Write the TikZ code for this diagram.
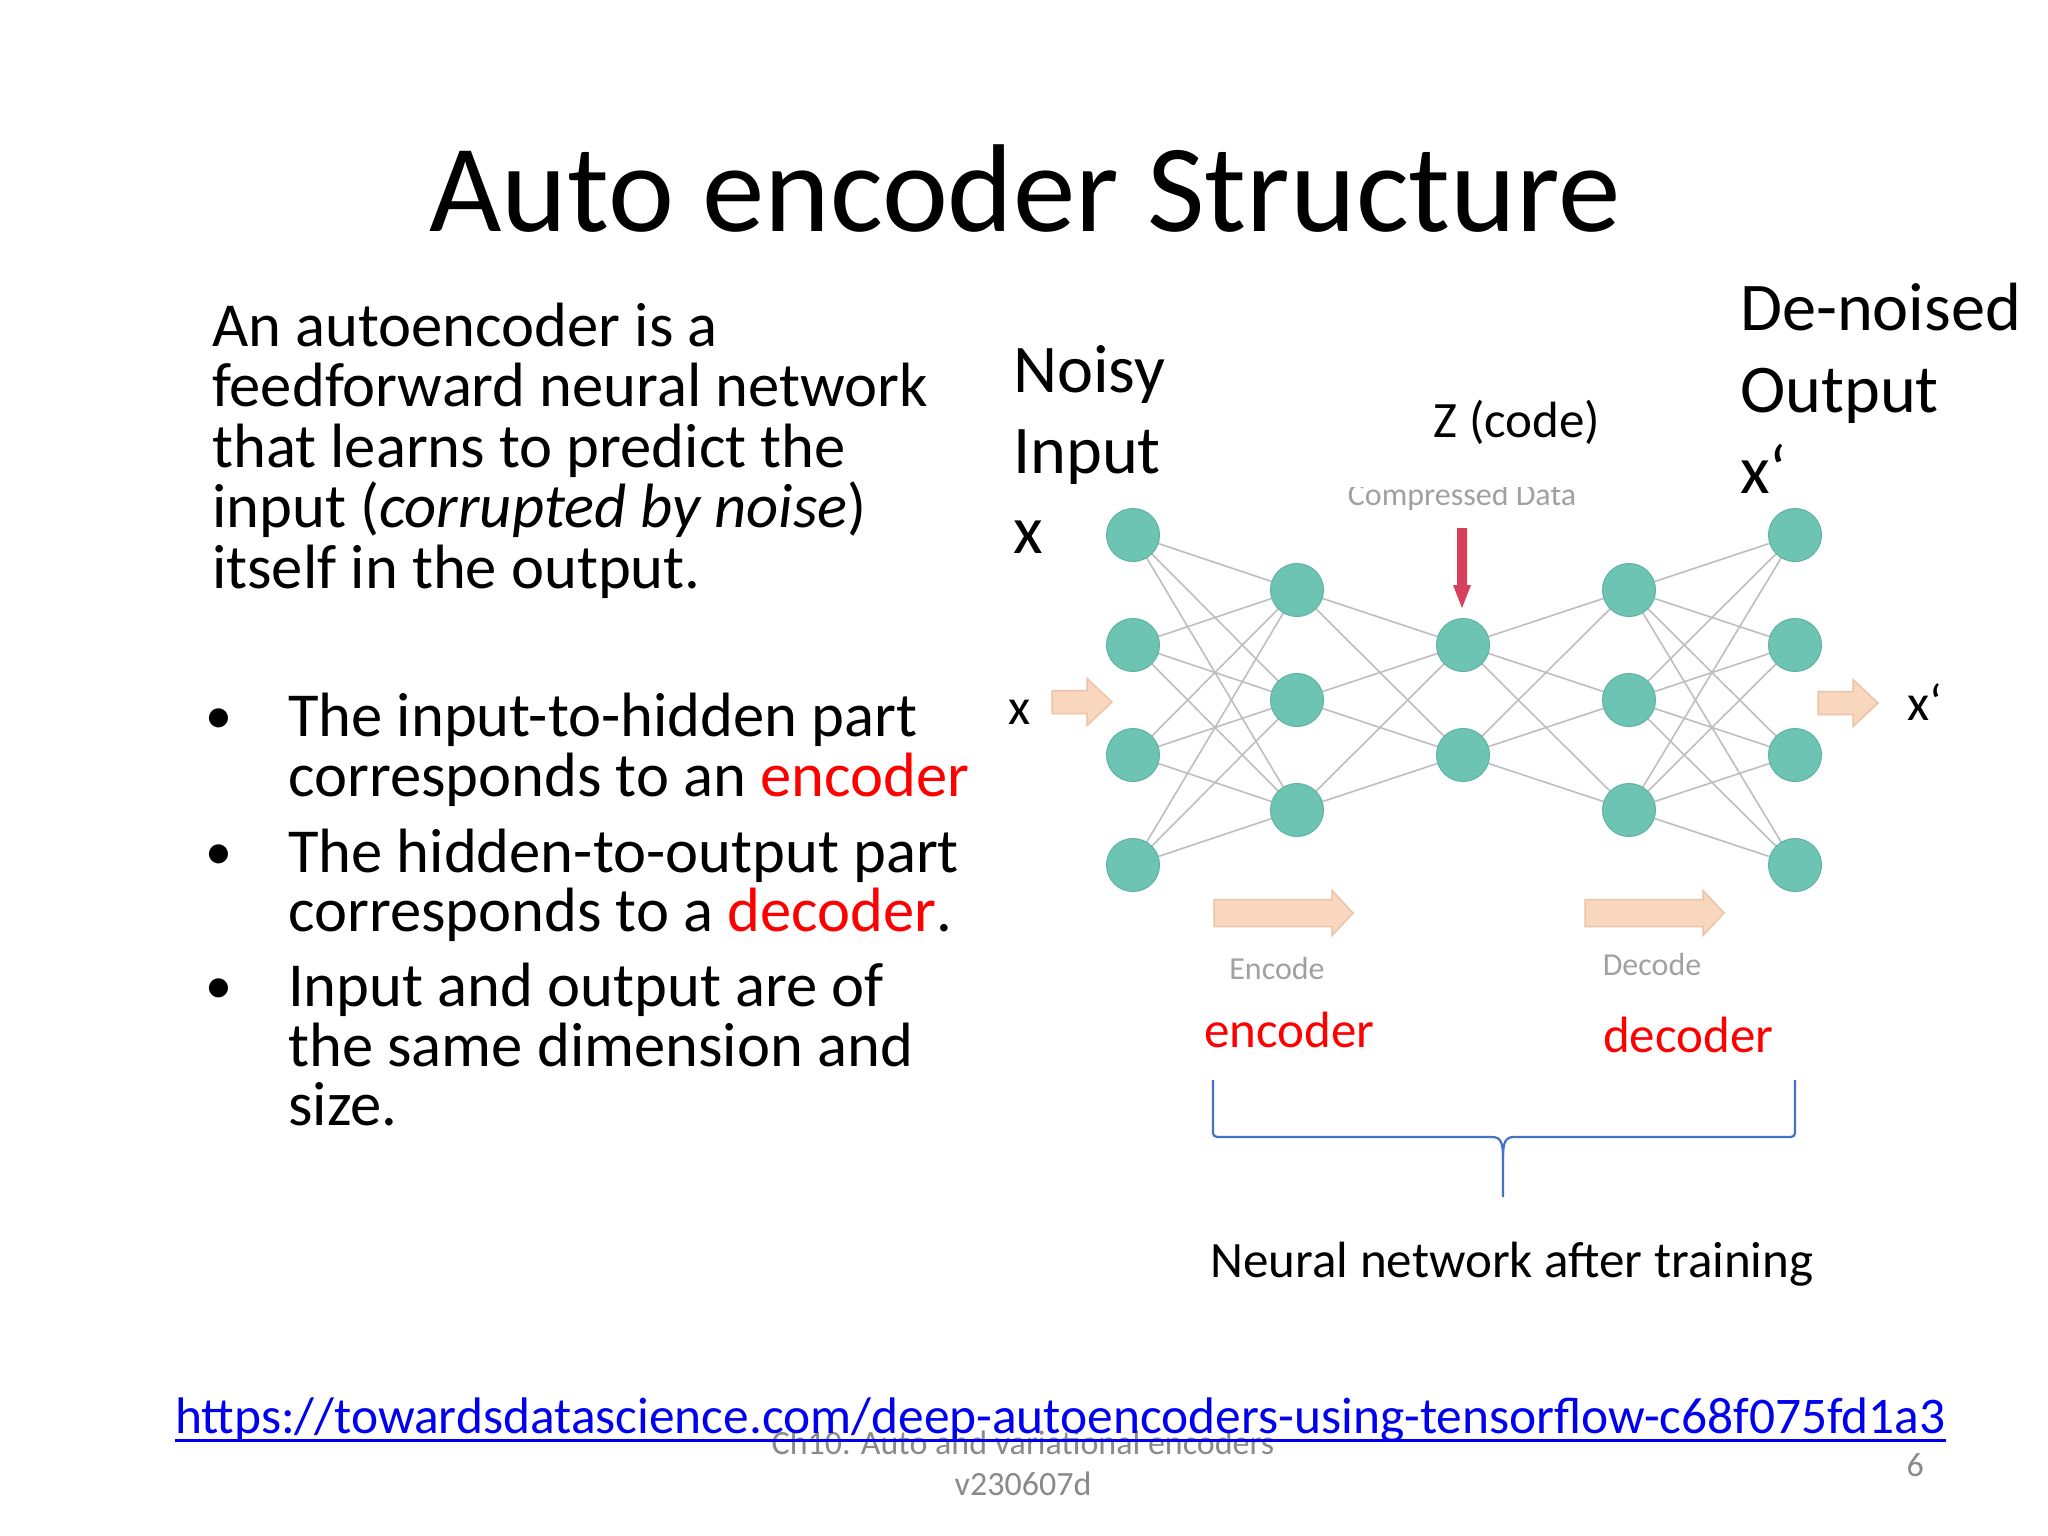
\documentclass[tikz,border=0pt]{standalone}
\usepackage{fontspec}
\setmainfont{Carlito}
\pgfdeclarelayer{bg}
\pgfsetlayers{bg,main}
\definecolor{teal}{HTML}{6EC4B3}
\definecolor{tealdark}{HTML}{5DB2A2}
\definecolor{edgegray}{HTML}{BEBEBE}
\definecolor{peachfill}{HTML}{F9D6BE}
\definecolor{peachline}{HTML}{EDC2A6}
\definecolor{redarrow}{HTML}{D6405A}
\definecolor{braceblue}{HTML}{4472C4}
\definecolor{urlblue}{HTML}{0000EE}
\definecolor{footgray}{HTML}{8A8A8A}
\definecolor{txtred}{HTML}{FF0000}
\newcommand{\peacharrow}[6]{%
  \draw[peachline, fill=peachfill, line width=1.5pt, line join=miter]
    (#1,#3-#4) -- (#2-#6,#3-#4) -- (#2-#6,#3-#5) -- (#2,#3) -- (#2-#6,#3+#5)
    -- (#2-#6,#3+#4) -- (#1,#3+#4) -- cycle;}
\begin{document}
\begin{tikzpicture}[x=1pt,y=-1pt,
  neuron/.style={circle, minimum size=53pt, inner sep=0, fill=teal, draw=tealdark, line width=1pt},
  edge/.style={draw=edgegray, line width=1.6pt},
  titletxt/.style={font=\fontsize{125}{150}\selectfont, anchor=base, inner sep=0},
  bodytxt/.style={font=\fontsize{62.6}{75}\selectfont, anchor=base west, inner sep=0},
  bullettxt/.style={font=\fontsize{54}{65}\selectfont, anchor=base, inner sep=0},
  labeltxt/.style={font=\fontsize{68.3}{82}\selectfont, anchor=base west, inner sep=0},
  smalltxt/.style={font=\fontsize{51}{61}\selectfont, anchor=base west, inner sep=0},
  urltxt/.style={font=\fontsize{51.4}{61}\selectfont, anchor=base west, inner sep=0, text=urlblue},
  fainttxt/.style={font=\fontsize{32}{38}\selectfont, text=footgray!80, anchor=base, inner sep=0},
  foottxt/.style={font=\fontsize{34}{41}\selectfont, text=footgray, anchor=base, inner sep=0},
  bracestyle/.style={draw=braceblue, line width=2.2pt, line join=round}]

\useasboundingbox (0,0) rectangle (2048,1536);
\begin{pgfonlayer}{bg}
\fill[white] (0,0) rectangle (2048,1536);
\end{pgfonlayer}

% Title
\node[titletxt] (title) at (1025,231) {Auto encoder Structure};

% Left paragraph
\node[bodytxt] (p1) at (212,346) {An autoencoder is a};
\node[bodytxt] (p2) at (212,406) {feedforward neural network};
\node[bodytxt] (p3) at (212,467) {that learns to predict the};
\node[bodytxt] (p4) at (212,527) {input (\textit{corrupted by noise})};
\node[bodytxt] (p5) at (212,588) {itself in the output.};

% Bullets
\node[bullettxt] (b1) at (219,733) {•};
\node[bodytxt] (t1a) at (288,736) {The input-to-hidden part};
\node[bodytxt] (t1b) at (288,796) {corresponds to an \textcolor{txtred}{encoder}};
\node[bullettxt] (b2) at (219,869) {•};
\node[bodytxt] (t2a) at (288,872) {The hidden-to-output part};
\node[bodytxt] (t2b) at (288,931) {corresponds to a \textcolor{txtred}{decoder}.};
\node[bullettxt] (b3) at (219,1003) {•};
\node[bodytxt] (t3a) at (288,1006) {Input and output are of};
\node[bodytxt] (t3b) at (288,1066) {the same dimension and};
\node[bodytxt] (t3c) at (288,1125) {size.};

% Network neurons
\node[neuron] (a1) at (1133,535) {};
\node[neuron] (a2) at (1133,645) {};
\node[neuron] (a3) at (1133,755) {};
\node[neuron] (a4) at (1133,865) {};
\node[neuron] (h1) at (1297,590) {};
\node[neuron] (h2) at (1297,700) {};
\node[neuron] (h3) at (1297,810) {};
\node[neuron] (z1) at (1463,645) {};
\node[neuron] (z2) at (1463,755) {};
\node[neuron] (g1) at (1629,590) {};
\node[neuron] (g2) at (1629,700) {};
\node[neuron] (g3) at (1629,810) {};
\node[neuron] (o1) at (1795,535) {};
\node[neuron] (o2) at (1795,645) {};
\node[neuron] (o3) at (1795,755) {};
\node[neuron] (o4) at (1795,865) {};

\begin{pgfonlayer}{bg}
  \foreach \i in {1,...,4}{\foreach \j in {1,...,3}{\draw[edge] (a\i.center) -- (h\j.center);}}
  \foreach \i in {1,...,3}{\foreach \j in {1,2}{\draw[edge] (h\i.center) -- (z\j.center);}}
  \foreach \i in {1,2}{\foreach \j in {1,...,3}{\draw[edge] (z\i.center) -- (g\j.center);}}
  \foreach \i in {1,...,3}{\foreach \j in {1,...,4}{\draw[edge] (g\i.center) -- (o\j.center);}}
\end{pgfonlayer}

% Compressed data label (faint, cut at top) and red arrow
\begin{scope}
  \clip (1300,487) rectangle (1640,520);
  \node[fainttxt] (cdata) at (1462,505) {Compressed Data};
\end{scope}
\fill[redarrow] (1457,528) -- (1467,528) -- (1467,585) -- (1471,585) -- (1462,608)
  -- (1453,585) -- (1457,585) -- cycle;

% Peach block arrows
\peacharrow{1052}{1112}{702}{11.5}{23.5}{25}
\peacharrow{1818}{1878}{703}{11.5}{23.5}{25}
\peacharrow{1214}{1353}{913}{13.5}{22.5}{21}
\peacharrow{1585}{1724}{913}{13.5}{22.5}{21}
\node[fainttxt] (enc) at (1277,979) {Encode};
\node[fainttxt] (dec) at (1652,975) {Decode};

% Labels
\node[labeltxt] (noisy) at (1013,392) {Noisy};
\node[labeltxt] (input) at (1013,473) {Input};
\node[labeltxt] (xin) at (1013,553) {x};
\node[labeltxt] (denoised) at (1740,330) {De-noised};
\node[labeltxt] (output) at (1740,412) {Output};
\node[labeltxt] (xout) at (1740,493) {x‘};
\node[smalltxt, anchor=base] (zcode) at (1517,437) {Z (code)};
\node[smalltxt] (xl) at (1008,724) {x};
\node[smalltxt] (xr) at (1907,720) {x‘};
\node[smalltxt, text=txtred] (encl) at (1204,1047) {encoder};
\node[smalltxt, text=txtred] (decl) at (1603,1052) {decoder};

% Brace
\coordinate (bl) at (1213,1080);
\coordinate (br) at (1795,1080);
\coordinate (tip) at (1503,1197);
\draw[bracestyle] (bl) -- (1213,1128) .. controls (1213,1137) .. (1222,1137) -- (1492,1137)
  .. controls (1501,1137) and (1503,1143) .. (1503,1158) -- (tip);
\draw[bracestyle] (br) -- (1795,1128) .. controls (1795,1137) .. (1786,1137) -- (1514,1137)
  .. controls (1505,1137) and (1503,1143) .. (1503,1158);
\node[smalltxt, anchor=base] (nnat) at (1512,1277) {Neural network after training};

% Footer
\node[foottxt] (foot1) at (1023,1454) {Ch10. Auto and variational encoders};
\node[foottxt] (foot2) at (1023,1495) {v230607d};
\node[foottxt, anchor=base east] (pagenum) at (1924,1476) {6};
\node[urltxt] (url) at (175,1433) {https://towardsdatascience.com/deep-autoencoders-using-tensorflow-c68f075fd1a3};
\draw[urlblue, line width=3pt] ([yshift=-7pt]url.base west) -- ([yshift=-7pt]url.base east);
\end{tikzpicture}
\end{document}
